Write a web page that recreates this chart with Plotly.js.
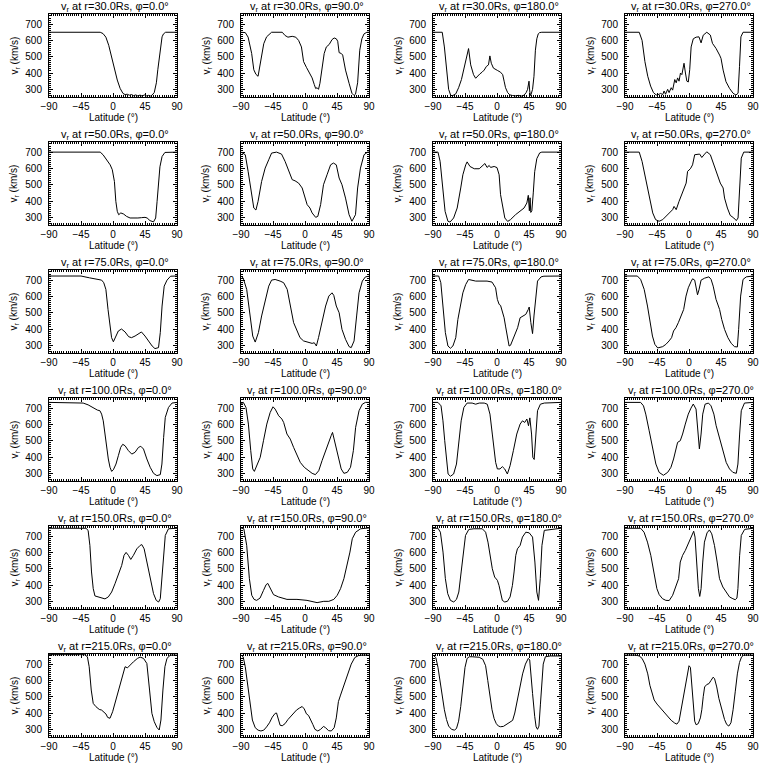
<!DOCTYPE html>
<html>
<head>
<meta charset="utf-8">
<script src="https://cdn.plot.ly/plotly-3.0.1.min.js"></script>
<style>html,body{margin:0;padding:0;background:#fff;}#plot{width:768px;height:768px;}</style>
</head>
<body>
<div id="plot"></div>
<script>
// ---- Data (latitude in degrees, v_r in km/s) ----
const radii = ['30.0', '50.0', '75.0', '100.0', '150.0', '215.0'];
const phis = ['0.0', '90.0', '180.0', '270.0'];
const xTicks = [-90, -45, 0, 45, 90];
const yTicks = [300, 400, 500, 600, 700];

// r = 30 Rs
const lat_r30_p0 = [-90,-18,-14,-10,-6,-2,1,3,6,10,14,17,20,23,26,29,32,35,38,41,44,47,50,53,55,58,61,63,65.5,67,69,71,74,90];
const v_r30_p0 = [650,650,642,620,570,500,450,408,357,306,275,268,270,264,268,261,266,259,265,258,266,260,263,259,265,280,340,420,500,570,622,640,650,650];
const lat_r30_p90 = [-90,-84,-80,-75,-72,-69,-66,-62,-58,-54,-47,-32,-28,-24,-18,-13,-9,-5,-2,2,6,10,13,15,17,19,21,24,27,30,34,38,41,44,46,48,51,53,57,62,66,69,71,74,77,80,83,87,90];
const v_r30_p90 = [650,648,620,520,420,392,380,480,580,622,650,650,630,620,625,620,600,560,470,435,405,370,330,305,310,300,337,440,520,560,575,605,615,610,595,525,520,510,418,337,276,262,270,340,540,610,640,650,650];
const lat_r30_p180 = [-90,-77,-74,-71,-68,-65,-62,-58,-54,-50,-46,-43,-40,-37,-33,-30,-27,-24,-21,-18,-15,-12,-10,-8,-5,-2,1,5,8,10,12,15,18,22,26,30,34,38,41,43,45,46,47,48,50,52,54,56,58,60,63,90];
const v_r30_p180 = [650,650,560,420,300,262,262,272,310,360,440,500,550,450,390,368,385,395,405,418,440,450,505,460,430,420,415,405,390,350,310,280,266,262,260,263,258,264,280,300,350,290,262,270,300,380,540,610,640,648,650,650];
const lat_r30_p270 = [-90,-70,-66,-62,-58,-54,-50,-46,-42,-40,-37,-35,-33,-30,-28,-25,-23,-20,-18,-16,-14,-12,-10,-8,-7,-5,-3,-1,1,3,6,10,14,17,20,25,30,33,38,43,45,48,52,57,62,66,69,71,73,76,90];
const v_r30_p270 = [650,650,600,470,380,320,280,265,270,275,268,290,270,300,280,310,295,360,340,370,350,400,390,430,460,400,350,345,420,560,610,620,622,585,632,650,633,582,551,510,490,418,347,306,276,265,276,439,622,650,650];

// r = 50 Rs
const lat_r50_p0 = [-90,-18,-14,-9,-4,-1,2,4,6,8,11,15,19,24,30,35,40,45,48,52,57,60,62,64,66,69,73,90];
const v_r50_p0 = [700,700,684,653,622,592,520,398,337,316,327,320,306,296,295,296,298,300,296,280,272,296,398,540,610,673,698,700];
const lat_r50_p90 = [-90,-84,-80,-75,-72,-69,-66,-61,-56,-51,-47,-40,-33,-28,-23,-18,-14,-9,-4,-1,3,7,10,15,18,22,26,31,36,40,44,48,52,57,62,66,71,74,78,83,88,90];
const v_r50_p90 = [700,684,582,439,357,345,398,520,602,653,694,700,688,643,582,531,524,510,480,439,378,357,327,300,306,378,500,561,622,633,622,541,500,418,316,276,316,480,602,684,700,700];
const lat_r50_p180 = [-90,-83,-80,-76,-73,-69,-66,-61,-56,-51,-48,-44,-42,-38,-32,-25,-19,-17,-14,-11,-9,-4,0,3,5,8,11,15,19,26,33,38,42,44,45.5,46.5,47.5,49,51,53,56,60,63,90];
const v_r50_p180 = [700,700,643,480,337,276,271,296,357,480,561,622,640,612,598,598,618,630,606,618,606,612,605,561,439,357,296,275,286,316,337,357,388,435,340,420,330,340,450,580,660,695,700,700];
const lat_r50_p270 = [-90,-70,-66,-61,-56,-51,-47,-42,-37,-32,-28,-23,-21,-18,-14,-9,-4,-2,2,5,8,15,18,22,25,30,35,40,44,48,50,54,58,63,66.5,69,71,73.5,77,90];
const v_r50_p270 = [700,700,643,541,418,327,286,276,286,306,327,347,367,347,398,449,510,582,598,622,684,688,667,688,702,684,622,561,510,480,418,357,312,296,280,296,480,663,700,700];

// r = 75 Rs
const lat_r75_p0 = [-90,-45,-33,-23,-16,-13,-10,-7,-4,-2,0.5,4,7.5,12,17,22,26,31,36,40,45,50,55,59,64,66.5,69,72,76,81,90];
const v_r75_p0 = [725,725,714,704,700,684,643,520,418,347,322,357,388,400,382,353,347,357,373,382,357,327,296,280,286,378,541,663,700,724,725];
const lat_r75_p90 = [-90,-87,-82,-77,-73.5,-70,-65.5,-61,-56,-51,-47,-42,-35,-30,-25,-21,-16,-11,-7,-2,3,10,13,16,19,24,29,33.5,38,40.5,44,48,52,57,62,65,69,72.6,76,80.6,85,90];
const v_r75_p90 = [724,714,643,480,357,320,378,480,582,663,700,704,694,684,643,541,439,388,347,327,320,312,316,296,347,439,541,602,622,606,541,500,398,337,292,286,327,480,622,694,720,724];
const lat_r75_p180 = [-90,-82,-79,-76,-72.6,-69,-65.5,-62,-58,-55,-51,-48,-44,-40,-30,-20,-14,-7,-2,0.5,3,5,7.5,10,12,14.6,17,19,23,26,29,32.5,37,40.5,44,45.3,47.6,50,52,54.7,57,62,66,90];
const v_r75_p180 = [725,725,684,541,378,296,282,296,347,459,561,622,673,704,694,694,694,688,653,582,551,545,510,469,418,347,296,300,347,378,408,469,480,490,520,535,439,372,480,582,694,720,724,725];
const lat_r75_p270 = [-90,-72.6,-68,-63,-58.4,-54.7,-51.4,-48,-44,-37,-32.5,-28,-24.5,-21.7,-18.4,-15,-11.3,-7.5,-4.2,-1,2.8,5,8,10,12,14,17,22,28,31,34,38,43,46,50,54.7,59.4,64,68,69.8,72.6,76,80.6,90];
const v_r75_p270 = [725,725,704,643,541,439,357,306,284,292,306,327,347,388,408,439,480,520,602,653,690,708,700,660,610,640,700,712,720,705,663,582,520,459,398,347,312,292,290,398,602,704,720,725];

// r = 100 Rs
const lat_r100_p0 = [-90,-50,-42,-35,-28,-22,-18.4,-16,-13.7,-11.3,-9,-6.6,-4.2,-1.9,0.5,4.2,7.5,10.8,13.7,17,21.7,26.4,31,35.8,39.1,42.9,47.6,52.3,57,61.7,66.5,68.8,71.2,73.5,78,83,90];
const v_r100_p0 = [735,735,731,720,700,688,684,663,622,541,459,388,337,312,322,357,408,459,478,469,439,418,429,459,466,449,388,337,300,286,292,357,520,643,704,731,735];
const lat_r100_p90 = [-90,-86.7,-83,-79.6,-76.3,-73.5,-71.2,-68,-63,-58.4,-53.7,-49,-45,-42,-37,-32.5,-30,-25.4,-20.7,-16,-11.3,-6.6,-1,5,10,14.6,19.3,24,28.7,33.5,36.8,38.7,40.5,44.3,47.6,50.9,54.7,59.4,64,68,71.2,76,80.6,85,90];
const v_r100_p90 = [724,735,704,602,439,327,312,347,398,500,602,673,708,694,653,633,612,541,510,459,408,367,337,316,300,292,316,378,439,490,531,551,520,439,388,327,300,306,337,439,582,684,724,735,735];
const lat_r100_p180 = [-90,-83,-78.7,-76,-73.5,-71.2,-68.8,-65.5,-61,-57,-53.7,-50.4,-46.6,-42,-35,-30,-25,-18,-13.7,-9.9,-6.6,-4.2,-1.9,0.5,4.2,7.5,10.8,14.6,18.4,23,27.8,32.5,35.8,39,42,44.3,46.2,48.6,50.4,52.3,54.7,57,61,66.5,90];
const v_r100_p180 = [735,735,714,622,500,378,296,282,296,357,480,622,704,731,731,724,731,731,724,663,541,439,367,327,327,341,327,296,347,439,541,602,622,612,633,592,640,541,398,385,541,684,724,731,735];
const lat_r100_p270 = [-90,-68,-64,-60.8,-56,-51.4,-46.6,-42,-36,-30,-25.4,-21.7,-18.4,-16,-12.3,-9,-5.2,-1,2.8,6,9.9,12.2,14.6,17,19.3,22.6,27.3,31,35,38.2,43,47.6,52.3,57,61.7,66.5,68.8,71.2,73.5,78,90];
const v_r100_p270 = [735,735,714,663,561,459,357,306,288,306,337,388,439,490,500,541,602,663,700,725,694,582,450,541,663,724,731,714,663,592,510,439,367,327,306,300,357,541,684,731,735];

// r = 150 Rs
const lat_r150_p0 = [-90,-38,-35,-32.5,-30.2,-27.8,-25.4,-20.7,-16,-11.3,-6.6,-1.9,2.8,7.5,12.2,15.5,18.4,21.7,25,28.7,33.5,38.2,40.5,43.8,47.6,52.3,57,60.8,64.1,66.5,68.8,71.2,73.5,78,90];
const v_r150_p0 = [748,748,735,643,480,378,333,327,322,315,327,357,408,469,520,582,600,582,557,582,622,643,648,622,541,439,347,306,296,316,439,582,704,745,748];
const lat_r150_p90 = [-90,-86,-82,-78.2,-74.9,-71.6,-68,-63.2,-58.4,-54.7,-52.3,-49,-44.3,-37.2,-25.4,-11.3,2.8,17,22.6,26.4,33.5,40.5,45.3,50,54.7,59.4,63.2,66.5,71.2,78.2,85,90];
const v_r150_p90 = [750,745,643,439,337,312,306,320,367,402,410,378,341,327,312,312,306,292,296,300,300,312,337,378,439,520,602,684,724,745,750,750];
const lat_r150_p180 = [-90,-83,-79.6,-75.9,-72.6,-69.3,-65.5,-60.8,-57,-53.7,-50.4,-47.6,-44.3,-39.6,-32.5,-20.7,-16,-12.7,-9.9,-6.6,-3.3,0.5,2.8,5.2,7.5,10.8,14.6,18.4,21.7,24,26.4,28.7,32.5,35.8,40.5,45.3,50,53.3,56,58.4,60.8,63.2,66.5,90];
const v_r150_p180 = [748,748,724,602,439,347,306,296,312,357,480,602,704,741,745,745,724,663,582,500,449,429,398,347,306,296,300,327,398,480,582,622,643,694,724,720,694,541,357,306,439,643,735,748];
const lat_r150_p270 = [-90,-68,-63.2,-58.4,-53.7,-49,-45.2,-41.9,-37.2,-32.5,-27.8,-23,-18.4,-14.6,-12.3,-9,-5.2,-1,2.8,6.6,8.5,10.8,13.2,15.1,17,19.3,21.7,25.4,28.7,32,35.8,39.6,42.9,47.6,52.3,57,61.7,65,67.4,68.8,71.2,73.5,78.2,90];
const v_r150_p270 = [748,748,724,663,582,480,378,341,316,306,305,337,388,439,541,582,612,653,694,730,694,541,378,330,378,541,663,720,738,714,643,541,439,388,357,327,316,310,320,378,582,704,741,748];

// r = 215 Rs
const lat_r215_p0 = [-90,-40,-36,-33.5,-30.6,-27.8,-24,-19.3,-16,-12.7,-9.9,-7.5,-4.2,-0.5,2.8,7.5,10.8,13.7,17,20.3,24,28.7,34.4,38.2,42.9,47.6,51.4,54.7,58,61.7,65,67.4,70.2,73,75.9,80.6,90];
const v_r215_p0 = [758,758,745,684,541,459,439,422,418,408,394,373,368,408,459,531,592,643,684,677,694,714,735,743,735,704,541,398,347,312,296,357,541,684,735,755,755];
const lat_r215_p90 = [-90,-87,-84,-81,-77,-74,-70,-66,-62,-58,-54,-50,-46,-42,-40,-38,-35,-32,-28,-24,-20,-16,-12,-8,-4,-1,2,5,8,11,14,18,22,26,29,33,37,41,44,47,50,55,60,65,70,75,80,90];
const v_r215_p90 = [755,745,684,582,459,357,310,295,290,295,315,340,375,398,400,370,325,322,335,360,380,398,418,430,440,425,395,385,360,330,300,290,300,318,310,292,290,310,370,470,510,575,640,700,740,752,755,755];
const lat_r215_p180 = [-90,-86,-83,-80,-77,-74,-71,-68,-64,-60,-57,-54,-51,-48,-45,-42,-39,-35,-25,-20,-16,-13,-10,-7,-4,-1,2,5,9,13,18,22,25,28,32,36,40,44,46,48,50,53,55,57,59,61,63,65,68,75,90];
const v_r215_p180 = [755,740,680,590,500,420,360,320,300,295,305,350,440,570,680,735,745,745,742,730,690,600,500,420,365,335,320,316,318,330,340,355,400,470,560,640,700,735,725,640,520,380,315,300,320,450,600,700,745,750,750];
const lat_r215_p270 = [-90,-75,-70,-66,-62,-58,-55,-52,-49,-45,-40,-35,-30,-25,-20,-17,-14,-11,-8,-5,-2,0,2,4,6,8,10,13,16,18,20,22,25,28,31,34,36,39,42,46,50,53,56,59,62,65,68,71,74,77,90];
const v_r215_p270 = [755,755,750,735,700,640,570,520,480,455,430,405,380,355,338,332,350,420,500,570,650,690,680,560,420,350,328,335,370,420,500,560,575,580,600,620,610,560,490,420,360,330,320,340,420,530,640,710,745,755,755];

const series = [
  [lat_r30_p0, v_r30_p0], [lat_r30_p90, v_r30_p90], [lat_r30_p180, v_r30_p180], [lat_r30_p270, v_r30_p270],
  [lat_r50_p0, v_r50_p0], [lat_r50_p90, v_r50_p90], [lat_r50_p180, v_r50_p180], [lat_r50_p270, v_r50_p270],
  [lat_r75_p0, v_r75_p0], [lat_r75_p90, v_r75_p90], [lat_r75_p180, v_r75_p180], [lat_r75_p270, v_r75_p270],
  [lat_r100_p0, v_r100_p0], [lat_r100_p90, v_r100_p90], [lat_r100_p180, v_r100_p180], [lat_r100_p270, v_r100_p270],
  [lat_r150_p0, v_r150_p0], [lat_r150_p90, v_r150_p90], [lat_r150_p180, v_r150_p180], [lat_r150_p270, v_r150_p270],
  [lat_r215_p0, v_r215_p0], [lat_r215_p90, v_r215_p90], [lat_r215_p180, v_r215_p180], [lat_r215_p270, v_r215_p270]
];

// ---- Layout ----
const W = 768, H = 768, CW = 192, CH = 128;
const FONT = 'Liberation Sans, Arial, sans-serif';
const traces = [];
const layout = {
  width: W, height: H,
  margin: {l: 0, r: 0, t: 0, b: 0},
  paper_bgcolor: '#fff', plot_bgcolor: '#fff',
  showlegend: false,
  font: {family: FONT, size: 10, color: '#000'},
  annotations: []
};

for (let i = 0; i < 24; i++) {
  const row = Math.floor(i / 4), col = i % 4;
  const n = i + 1;
  const xa = 'xaxis' + (n === 1 ? '' : n), ya = 'yaxis' + (n === 1 ? '' : n);
  const xr = 'x' + (n === 1 ? '' : n), yr = 'y' + (n === 1 ? '' : n);
  traces.push({
    x: series[i][0], y: series[i][1],
    type: 'scatter', mode: 'lines',
    line: {color: '#000', width: 1},
    xaxis: xr, yaxis: yr, hoverinfo: 'skip'
  });
  const left = CW * col + 49, right = CW * col + 177;
  const top = CH * row + 14, bottom = CH * row + 97;
  layout[xa] = {
    domain: [left / W, right / W], anchor: yr,
    range: [-90, 90], tickmode: 'array', tickvals: xTicks,
    ticks: 'inside', ticklen: 4, tickwidth: 1, tickcolor: '#000',
    minor: {ticks: 'inside', ticklen: 2, dtick: 3, tick0: -90, tickcolor: '#000', tickwidth: 1},
    showline: true, linecolor: '#000', linewidth: 1, mirror: 'allticks',
    showgrid: false, zeroline: false, ticklabelstandoff: 0,
    tickfont: {family: FONT, size: 10, color: '#000'}, fixedrange: true
  };
  layout[ya] = {
    domain: [1 - bottom / H, 1 - top / H], anchor: xr,
    range: [253, 762], tickmode: 'array', tickvals: yTicks,
    ticks: 'inside', ticklen: 4, tickwidth: 1, tickcolor: '#000',
    minor: {ticks: 'inside', ticklen: 2, dtick: 12.5, tick0: 0, tickcolor: '#000', tickwidth: 1},
    showline: true, linecolor: '#000', linewidth: 1, mirror: 'allticks',
    showgrid: false, zeroline: false, ticklabelstandoff: 4,
    tickfont: {family: FONT, size: 10, color: '#000'}, fixedrange: true
  };
  // subplot title
  layout.annotations.push({
    xref: 'paper', yref: 'paper', x: (CW * col + 115) / W, y: 1 - (CH * row + 7) / H,
    xanchor: 'center', yanchor: 'middle', showarrow: false,
    text: 'v<sub>r</sub> at r=' + radii[row] + 'Rs, φ=' + phis[col] + '°',
    font: {family: FONT, size: 11, color: '#000'}
  });
  // y title
  layout.annotations.push({
    xref: 'paper', yref: 'paper', x: (CW * col + 14) / W, y: 1 - (CH * row + 55.5) / H,
    xanchor: 'center', yanchor: 'middle', showarrow: false, textangle: -90,
    text: 'v<sub>r</sub> (km/s)',
    font: {family: FONT, size: 10, color: '#000'}
  });
  // x title
  layout.annotations.push({
    xref: 'paper', yref: 'paper', x: (CW * col + 113) / W, y: 1 - (CH * row + 117.5) / H,
    xanchor: 'center', yanchor: 'middle', showarrow: false,
    text: 'Latitude (°)',
    font: {family: FONT, size: 10, color: '#000'}
  });
}

Plotly.newPlot('plot', traces, layout, {displayModeBar: false, staticPlot: true});
</script>
</body>
</html>
